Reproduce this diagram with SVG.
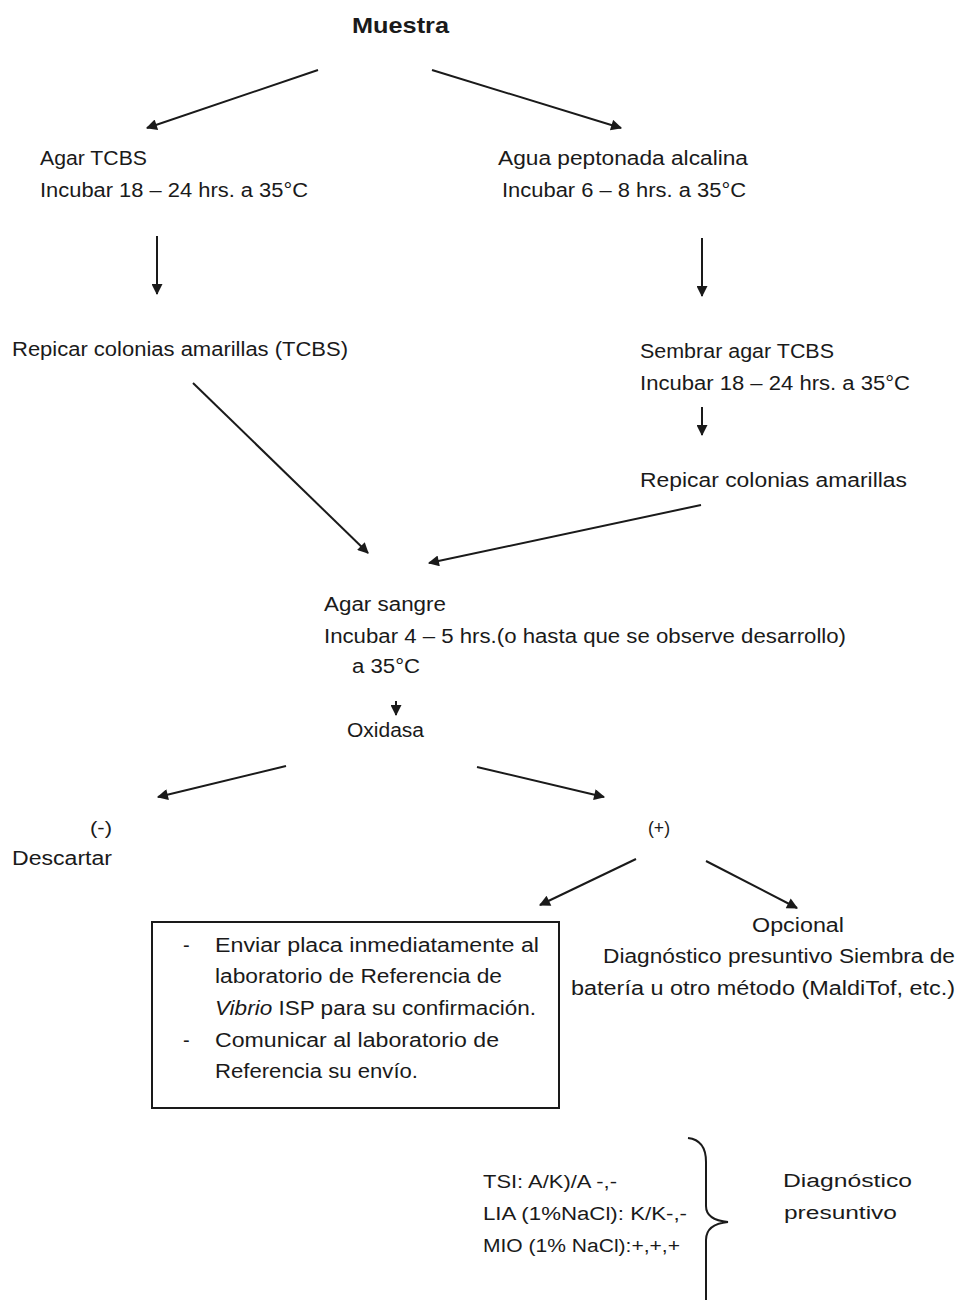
<svg xmlns="http://www.w3.org/2000/svg" width="960" height="1301" viewBox="0 0 960 1301">
<style>
text{font-family:"Liberation Sans",Arial,sans-serif;font-size:20px;fill:#1a1a1a}
.b{font-weight:bold;font-size:22px}
.s{font-size:18px}
.c{stroke:#1a1a1a;stroke-width:2;fill:none}
</style>
<defs>
<marker id="ah" viewBox="0 0 10 10" refX="9" refY="5" markerWidth="13" markerHeight="11" markerUnits="userSpaceOnUse" orient="auto"><path d="M0,0 L10,5 L0,10 z" fill="#1a1a1a"/></marker>
</defs>
<rect width="960" height="1301" fill="#fff"/>
<g id="connectors">
<line class="c" x1="318" y1="70" x2="147" y2="128" marker-end="url(#ah)"/>
<line class="c" x1="432" y1="70" x2="621" y2="128" marker-end="url(#ah)"/>
<line class="c" x1="157" y1="236" x2="157" y2="294" marker-end="url(#ah)"/>
<line class="c" x1="702" y1="238" x2="702" y2="296" marker-end="url(#ah)"/>
<line class="c" x1="702" y1="407" x2="702" y2="435" marker-end="url(#ah)"/>
<line class="c" x1="193" y1="383" x2="368" y2="553" marker-end="url(#ah)"/>
<line class="c" x1="701" y1="505" x2="429" y2="563" marker-end="url(#ah)"/>
<line class="c" x1="396" y1="701" x2="396" y2="715" marker-end="url(#ah)"/>
<line class="c" x1="286" y1="766" x2="158" y2="797" marker-end="url(#ah)"/>
<line class="c" x1="477" y1="767" x2="604" y2="797" marker-end="url(#ah)"/>
<line class="c" x1="636" y1="859" x2="540" y2="905" marker-end="url(#ah)"/>
<line class="c" x1="706" y1="861" x2="797" y2="908" marker-end="url(#ah)"/>
</g>
<g id="muestra"><text class="b" x="352" y="33" textLength="97" lengthAdjust="spacingAndGlyphs">Muestra</text></g>
<g id="agar-tcbs">
<text x="40" y="165" textLength="107" lengthAdjust="spacingAndGlyphs">Agar TCBS</text>
<text x="40" y="197" textLength="268" lengthAdjust="spacingAndGlyphs">Incubar 18 – 24 hrs. a 35°C</text>
</g>
<g id="agua-peptonada">
<text x="498" y="165" textLength="250" lengthAdjust="spacingAndGlyphs">Agua peptonada alcalina</text>
<text x="502" y="197" textLength="244" lengthAdjust="spacingAndGlyphs">Incubar 6 – 8 hrs. a 35°C</text>
</g>
<g id="repicar-tcbs"><text x="12" y="356" textLength="336" lengthAdjust="spacingAndGlyphs">Repicar colonias amarillas (TCBS)</text></g>
<g id="sembrar">
<text x="640" y="358" textLength="194" lengthAdjust="spacingAndGlyphs">Sembrar agar TCBS</text>
<text x="640" y="390" textLength="270" lengthAdjust="spacingAndGlyphs">Incubar 18 – 24 hrs. a 35°C</text>
</g>
<g id="repicar"><text x="640" y="487" textLength="267" lengthAdjust="spacingAndGlyphs">Repicar colonias amarillas</text></g>
<g id="agar-sangre">
<text x="324" y="611" textLength="122" lengthAdjust="spacingAndGlyphs">Agar sangre</text>
<text x="324" y="643" textLength="522" lengthAdjust="spacingAndGlyphs">Incubar 4 – 5 hrs.(o hasta que se observe desarrollo)</text>
<text x="352" y="673" textLength="68" lengthAdjust="spacingAndGlyphs">a 35°C</text>
</g>
<g id="oxidasa"><text x="347" y="737" textLength="77" lengthAdjust="spacingAndGlyphs">Oxidasa</text></g>
<g id="negativo">
<text class="s" x="90" y="834" textLength="22" lengthAdjust="spacingAndGlyphs">(-)</text>
<text x="12" y="865" textLength="100" lengthAdjust="spacingAndGlyphs">Descartar</text>
</g>
<g id="positivo"><text class="s" x="648" y="834" textLength="22" lengthAdjust="spacingAndGlyphs">(+)</text></g>
<g id="enviar">
<rect x="152" y="922" width="407" height="186" fill="none" stroke="#1a1a1a" stroke-width="2"/>
<text x="183" y="952">-</text>
<text x="215" y="952" textLength="324" lengthAdjust="spacingAndGlyphs">Enviar placa inmediatamente al</text>
<text x="215" y="983" textLength="287" lengthAdjust="spacingAndGlyphs">laboratorio de Referencia de</text>
<text x="215" y="1015" textLength="321" lengthAdjust="spacingAndGlyphs"><tspan font-style="italic">Vibrio</tspan> ISP para su confirmación.</text>
<text x="183" y="1047">-</text>
<text x="215" y="1047" textLength="284" lengthAdjust="spacingAndGlyphs">Comunicar al laboratorio de</text>
<text x="215" y="1078" textLength="203" lengthAdjust="spacingAndGlyphs">Referencia su envío.</text>
</g>
<g id="opcional">
<text x="752" y="932" textLength="92" lengthAdjust="spacingAndGlyphs">Opcional</text>
<text x="603" y="963" textLength="352" lengthAdjust="spacingAndGlyphs">Diagnóstico presuntivo Siembra de</text>
<text x="571" y="995" textLength="384" lengthAdjust="spacingAndGlyphs">batería u  otro método (MaldiTof, etc.)</text>
</g>
<g id="pruebas">
<text class="s" x="483" y="1188" textLength="134" lengthAdjust="spacingAndGlyphs">TSI: A/K)/A -,-</text>
<text class="s" x="483" y="1220" textLength="204" lengthAdjust="spacingAndGlyphs">LIA (1%NaCl): K/K-,-</text>
<text class="s" x="483" y="1252" textLength="197" lengthAdjust="spacingAndGlyphs">MIO (1% NaCl):+,+,+</text>
<path class="c" d="M688,1138 Q706,1140 706,1162 L706,1206 Q706,1220 728,1222 Q706,1224 706,1240 L706,1300"/>
<text class="s" x="783" y="1187" textLength="129" lengthAdjust="spacingAndGlyphs">Diagnóstico</text>
<text class="s" x="784" y="1219" textLength="113" lengthAdjust="spacingAndGlyphs">presuntivo</text>
</g>
</svg>
